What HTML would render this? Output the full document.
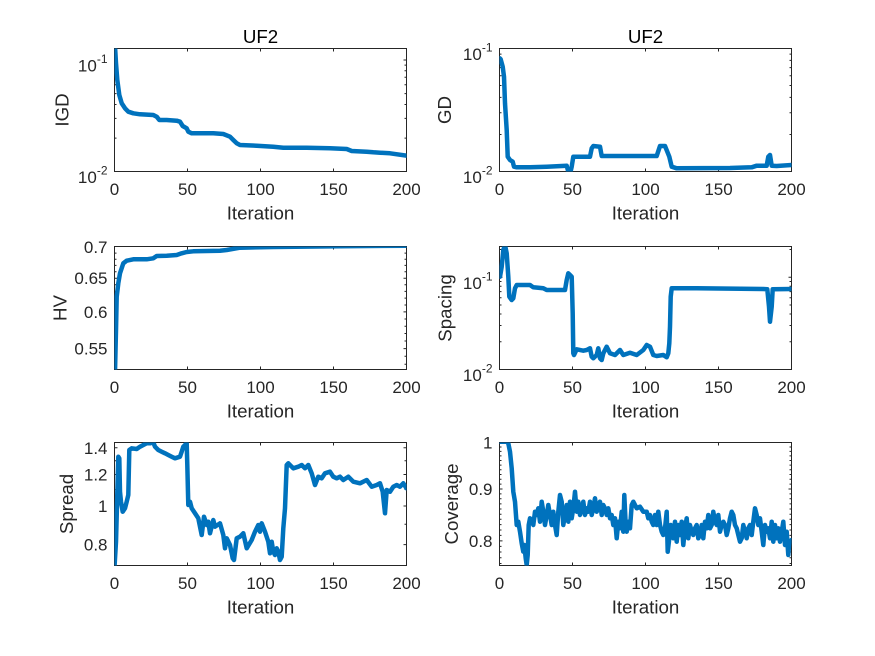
<!DOCTYPE html>
<html>
<head>
<meta charset="utf-8">
<style>
  html, body { margin:0; padding:0; background:#ffffff; }
  svg { display:block; }
  .tk { font-family:"Liberation Sans", Arial, sans-serif; font-size:17px; fill:#262626; }
  .lb { font-family:"Liberation Sans", Arial, sans-serif; font-size:18.7px; fill:#262626; }
  .tt { font-family:"Liberation Sans", Arial, sans-serif; font-size:18.7px; fill:#000000; }
  .ax { fill:none; stroke:#262626; stroke-width:1; }
  .tick { fill:none; stroke:#262626; stroke-width:1; }
  .ser { fill:none; stroke:#0072BD; stroke-width:4.5; stroke-linejoin:round; stroke-linecap:round; }
</style>
</head>
<body>
<svg width="875" height="656" viewBox="0 0 875 656" xmlns="http://www.w3.org/2000/svg">
  <rect x="0" y="0" width="875" height="656" fill="#ffffff"/>
  <defs>
    <clipPath id="c1"><rect x="114.5" y="48.5" width="292" height="123"/></clipPath>
    <clipPath id="c2"><rect x="499.5" y="48.5" width="292" height="123"/></clipPath>
    <clipPath id="c3"><rect x="114.5" y="246.5" width="292" height="123"/></clipPath>
    <clipPath id="c4"><rect x="499.5" y="246.5" width="292" height="123"/></clipPath>
    <clipPath id="c5"><rect x="114.5" y="442.5" width="292" height="123"/></clipPath>
    <clipPath id="c6"><rect x="499.5" y="442.5" width="292" height="123"/></clipPath>
  </defs>

  <!-- ============ AXES BOXES ============ -->
  <rect class="ax" x="114.5" y="48.5" width="292" height="123"/>
  <rect class="ax" x="499.5" y="48.5" width="292" height="123"/>
  <rect class="ax" x="114.5" y="246.5" width="292" height="123"/>
  <rect class="ax" x="499.5" y="246.5" width="292" height="123"/>
  <rect class="ax" x="114.5" y="442.5" width="292" height="123"/>
  <rect class="ax" x="499.5" y="442.5" width="292" height="123"/>

  <!-- ============ X TICKS ============ -->
  <path class="tick" d="
    M187.5,171.5v-3 M260.5,171.5v-3 M333.5,171.5v-3
    M187.5,48.5v3 M260.5,48.5v3 M333.5,48.5v3
    M572.5,171.5v-3 M645.5,171.5v-3 M718.5,171.5v-3
    M572.5,48.5v3 M645.5,48.5v3 M718.5,48.5v3
    M187.5,369.5v-3 M260.5,369.5v-3 M333.5,369.5v-3
    M187.5,246.5v3 M260.5,246.5v3 M333.5,246.5v3
    M572.5,369.5v-3 M645.5,369.5v-3 M718.5,369.5v-3
    M572.5,246.5v3 M645.5,246.5v3 M718.5,246.5v3
    M187.5,565.5v-3 M260.5,565.5v-3 M333.5,565.5v-3
    M187.5,442.5v3 M260.5,442.5v3 M333.5,442.5v3
    M572.5,565.5v-3 M645.5,565.5v-3 M718.5,565.5v-3
    M572.5,442.5v3 M645.5,442.5v3 M718.5,442.5v3"/>

  <!-- ============ Y TICKS ============ -->
  <!-- IGD -->
  <path class="tick" d="M114.5,60h3 M406.5,60h-3
    M114.5,138.1h2 M114.5,118.4h2 M114.5,104.5h2 M114.5,93.6h2 M114.5,84.8h2 M114.5,77.3h2 M114.5,70.8h2 M114.5,65.1h2
    M406.5,138.1h-2 M406.5,118.4h-2 M406.5,104.5h-2 M406.5,93.6h-2 M406.5,84.8h-2 M406.5,77.3h-2 M406.5,70.8h-2 M406.5,65.1h-2"/>
  <!-- GD -->
  <path class="tick" d="
    M499.5,134.5h2 M499.5,112.8h2 M499.5,97.4h2 M499.5,85.5h2 M499.5,75.8h2 M499.5,67.6h2 M499.5,60.4h2 M499.5,54.1h2
    M791.5,134.5h-2 M791.5,112.8h-2 M791.5,97.4h-2 M791.5,85.5h-2 M791.5,75.8h-2 M791.5,67.6h-2 M791.5,60.4h-2 M791.5,54.1h-2"/>
  <!-- HV -->
  <path class="tick" d="M114.5,278.2h3 M114.5,311.9h3 M114.5,348.6h3
    M406.5,278.2h-3 M406.5,311.9h-3 M406.5,348.6h-3
    M114.5,364.2h2 M114.5,356.3h2 M114.5,341h2 M114.5,333.5h2 M114.5,326.2h2 M114.5,319h2 M114.5,305h2 M114.5,298.1h2 M114.5,291.4h2 M114.5,284.7h2 M114.5,271.8h2 M114.5,265.4h2 M114.5,259.2h2 M114.5,253.1h2
    M406.5,364.2h-2 M406.5,356.3h-2 M406.5,341h-2 M406.5,333.5h-2 M406.5,326.2h-2 M406.5,319h-2 M406.5,305h-2 M406.5,298.1h-2 M406.5,291.4h-2 M406.5,284.7h-2 M406.5,271.8h-2 M406.5,265.4h-2 M406.5,259.2h-2 M406.5,253.1h-2"/>
  <!-- Spacing -->
  <path class="tick" d="M499.5,277.3h3 M791.5,277.3h-3
    M499.5,341.7h2 M499.5,325.5h2 M499.5,314h2 M499.5,305h2 M499.5,297.8h2 M499.5,291.6h2 M499.5,286.2h2 M499.5,281.5h2 M499.5,249.5h2
    M791.5,341.7h-2 M791.5,325.5h-2 M791.5,314h-2 M791.5,305h-2 M791.5,297.8h-2 M791.5,291.6h-2 M791.5,286.2h-2 M791.5,281.5h-2 M791.5,249.5h-2"/>
  <!-- Spread -->
  <path class="tick" d="M114.5,447.8h3 M114.5,474.5h3 M114.5,506h3 M114.5,544.6h3
    M406.5,447.8h-3 M406.5,474.5h-3 M406.5,506h-3 M406.5,544.6h-3
    M114.5,524.2h2 M114.5,489.5h2 M114.5,460.7h2
    M406.5,524.2h-2 M406.5,489.5h-2 M406.5,460.7h-2"/>
  <!-- Coverage -->
  <path class="tick" d="M499.5,489h3 M499.5,540.9h3 M791.5,489h-3 M791.5,540.9h-3
    M499.5,563.5h2 M499.5,557.7h2 M499.5,552h2 M499.5,546.4h2 M499.5,535.4h2 M499.5,530h2 M499.5,524.6h2 M499.5,519.3h2 M499.5,514.2h2 M499.5,509h2 M499.5,503.9h2 M499.5,498.8h2 M499.5,493.9h2 M499.5,484.1h2 M499.5,479.2h2 M499.5,474.5h2 M499.5,469.8h2 M499.5,465.1h2 M499.5,460.5h2 M499.5,455.9h2 M499.5,451.4h2 M499.5,447h2
    M791.5,563.5h-2 M791.5,557.7h-2 M791.5,552h-2 M791.5,546.4h-2 M791.5,535.4h-2 M791.5,530h-2 M791.5,524.6h-2 M791.5,519.3h-2 M791.5,514.2h-2 M791.5,509h-2 M791.5,503.9h-2 M791.5,498.8h-2 M791.5,493.9h-2 M791.5,484.1h-2 M791.5,479.2h-2 M791.5,474.5h-2 M791.5,469.8h-2 M791.5,465.1h-2 M791.5,460.5h-2 M791.5,455.9h-2 M791.5,451.4h-2 M791.5,447h-2"/>

  <!-- ============ SERIES ============ -->
  <!-- IGD -->
  <polyline class="ser" clip-path="url(#c1)" points="
    115,46 116,63.3 117.3,80 119.3,95 121.7,103.3 125,108.3 128.3,111.7 133.3,113.3 140,114.3
    153.3,115 156.7,116.7 159.3,120 166.7,120 176.7,120.7 180,121.7 182.7,126 186.7,128.3 188.3,131.7
    191.7,133.3 213.3,133.3 223.3,134 230,136.7 233.3,140 236.7,143.3 240,145 256.7,145.7 273.3,146.7
    283.3,147.7 306.7,147.7 330,148.3 346.7,149 351.7,151 366.7,151.7 373.3,152.3 390,153.3 406.5,155.7"/>
  <!-- GD -->
  <polyline class="ser" clip-path="url(#c2)" points="
    499.8,58.3 500.7,59.3 502.7,66.7 504,76.7 505,103.3 506.7,130 507.7,156.7 510,160 512.7,161.7
    514,166.7 516.7,167.3 530,167.3 546.7,166.7 566.7,165.7 568.3,171.7 570,174 571.7,166.7 573.3,156.7
    590,156.7 591.7,148.3 593.3,146 600,146.7 601.7,156 606.7,156 656.7,156 660,146 665,146 667.3,151.7
    669.3,156.7 671.7,166.7 676.7,168.3 730,168 751.7,167.3 756.7,165.7 766.7,165.7 768.3,156.7 770,155
    771.7,165.7 776.7,166 791.5,165"/>
  <!-- HV -->
  <polyline class="ser" clip-path="url(#c3)" points="
    115,372 116,330 116.7,296.7 118.3,283.3 120,273.3 123.3,263.3 126.7,260.7 133.3,259.3 146.7,259.3
    153.3,258.3 156.7,256 166.7,255.7 176.7,255 181.7,253.3 186.7,252 193.3,251.3 220,250.7 226.7,250
    240,247.7 273.3,247 340,246.3 406.5,245.7"/>
  <!-- Spacing -->
  <polyline class="ser" clip-path="url(#c4)" points="
    500,276.7 501.7,266.7 503.3,250 505,245 506.7,253.3 508.3,276.7 509.3,296.7 511.7,300 513.3,298.3
    515,288.3 516.7,285 530,285 533.3,287.3 543.3,288.3 546.7,290 565,290 566.7,280 568.3,273.3 570,275
    571.7,276.7 572.7,313.3 573.3,353.3 574,355 576.7,349.3 583.3,350.7 586.7,350 590,348.3 591.7,356.7
    593.3,358.3 596.7,355 598.3,348.3 600,358.3 601.7,360 603.3,353.3 606.7,346.7 610,353.3 615,355
    620,350 623.3,355 630,352.7 636.7,355 643.3,350 646.7,345 650,346.7 653.3,355 656.7,356 663.3,355
    666.7,357.3 668.3,353.3 669.3,343.3 670,326.7 670.7,296.7 671.7,288.3 696.7,288.3 763.3,289
    767.3,289.3 769,306.7 770,321.7 771.7,306.7 772.7,289.3 791.5,289"/>
  <!-- Spread -->
  <polyline class="ser" clip-path="url(#c5)" points="
    114.5,567 116,541.7 118.3,456.7 119.3,458.3 120,491.7 121,501.7 122.7,511.7 125,508.3 126.7,501.7
    128.3,495 129.3,450 131.7,448.3 136.7,449 140,446.7 143.3,445 146.7,443.3 150,443.3 153.3,442.3
    155,446.7 158.3,450 161.7,451.7 165,453.3 168.3,455 171.7,456.7 175,458.3 180,456.7 181.7,451.7
    183.3,446.7 186.7,443.3 187.3,465 188.3,505 190,501.7 191.7,508.3 195,513.3 198.3,518.3 201.7,535
    204,516.7 206.7,525 208.3,521.7 210,533.3 213.3,520 215,526.7 220,523.3 223.3,535 225,548.3
    226.7,538.3 230,545 232.7,558.3 234,560 236.7,538.3 240,536.7 243.3,533.3 246.7,548.3 251.7,540
    255,531.7 258.3,525 260,531.7 261.7,523.3 265,531.7 268.3,541.7 270,553.3 271.7,541.7 273.3,551.7
    275,555 276.7,548.3 278.3,551.7 280,560 281.7,556.7 283.3,528.3 285,508.3 286.7,465 288.3,463.3
    293.3,468.3 298.3,466.7 301.7,465 305,468.3 308.3,465 311.7,473.3 315,485 318.3,476.7 321.7,478.3
    325,473.3 330,471.7 333.3,476.7 336.7,478.3 340,476.7 343.3,480 348.3,476.7 353.3,481.7 360,483.3
    366.7,480 371.7,486.7 376.7,485 380,483.3 382.7,491.7 385,513.3 386.7,490 390,491.7 393.3,486.7
    396.7,485 400,486.7 403.3,483.3 406.5,488.3"/>
  <!-- Coverage -->
  <polyline class="ser" clip-path="url(#c6)" points="
    500,441.7 506.7,441.7 508.3,443.3 510,451.7 511.7,468.3 513.3,491.7 515,501.7 516.7,525 518.3,521.7
    520,531.7 521.7,543.3 523.3,551.7 524.3,545 525.7,558.3 526.7,565 527.7,555 528.7,525 530,518.3
    531.7,520 533.3,525 535,511.7 536.7,515 538.3,508.3 540,521.7 541.7,501.7 543.3,511.7 545,525
    546.7,515 548.3,505 550,515 551.7,525 553.3,511.7 555,525 556.7,535 558.3,511.7 560,495 561.7,501.7
    563.3,525 565,515 566.7,505 568.3,521.7 570,501.7 571.7,518.3 573.3,508.3 575,491.7 576.7,511.7
    578.3,501.7 580,515 581.7,508.3 583.3,501.7 585,515 586.7,508.3 588.3,511.7 590,501.7 591.7,515
    593.3,508.3 595,498.3 596.7,511.7 598.3,505 600,501.7 601.7,515 603.3,505 605,508.3 606.7,515
    608.3,508.3 610,518.3 611.7,515 613.3,525 615,518.3 616.7,538.3 618.3,521.7 620,528.3 621.7,511.7
    623.3,531.7 624.3,495 625.7,525 626.7,531.7 628.3,521.7 630,528.3 631.7,505 633.3,501.7 636.7,508.3
    640,506.7 643.3,511.7 646.7,511.7 648.3,518.3 650,515 651.7,521.7 653.3,525 655,515 656.7,525
    658.3,511.7 660,525 661.7,531.7 663.3,535 665,528.3 666.7,511.7 667.7,551.7 669.3,538.3 670.7,525
    672.3,531.7 673.3,538.3 675,521.7 676.7,541.7 678.3,525 680,535 681.7,521.7 683.3,545 685,528.3
    686.7,518.3 688.3,538.3 690,525 691.7,531.7 693.3,535 695,528.3 696.7,525 698.3,538.3 700,535
    701.7,525 703.3,538.3 705,521.7 706.7,528.3 708.3,515 710,528.3 711.7,525 713.3,511.7 715,521.7
    716.7,525 718.3,515 720,531.7 721.7,525 723.3,521.7 725,525 726.7,535 728.3,528.3 730,518.3
    731.7,511.7 733.3,515 735,525 736.7,528.3 738.3,535 740,541.7 741.7,538.3 743.3,525 745,531.7
    746.7,538.3 748.3,528.3 750,525 751.7,535 753.3,521.7 755,508.3 756.7,515 758.3,525 760,518.3
    761.7,531.7 763.3,545 765,525 766.7,531.7 768.3,528.3 770,538.3 771.7,521.7 773.3,541.7 775,525
    776.7,538.3 778.3,528.3 780,541.7 781.7,531.7 783.3,521.7 785,545 786.7,531.7 788.3,555 789.3,541.7
    791.5,540"/>

  <!-- ============ TITLES ============ -->
  <text class="tt" x="260.5" y="43" text-anchor="middle">UF2</text>
  <text class="tt" x="645.5" y="43" text-anchor="middle">UF2</text>

  <!-- ============ X TICK LABELS ============ -->
  <g class="tk" text-anchor="middle">
    <text x="114.5" y="195">0</text><text x="187.5" y="195">50</text><text x="260.5" y="195">100</text><text x="333.5" y="195">150</text><text x="406.5" y="195">200</text>
    <text x="499.5" y="195">0</text><text x="572.5" y="195">50</text><text x="645.5" y="195">100</text><text x="718.5" y="195">150</text><text x="791.5" y="195">200</text>
    <text x="114.5" y="393">0</text><text x="187.5" y="393">50</text><text x="260.5" y="393">100</text><text x="333.5" y="393">150</text><text x="406.5" y="393">200</text>
    <text x="499.5" y="393">0</text><text x="572.5" y="393">50</text><text x="645.5" y="393">100</text><text x="718.5" y="393">150</text><text x="791.5" y="393">200</text>
    <text x="114.5" y="589">0</text><text x="187.5" y="589">50</text><text x="260.5" y="589">100</text><text x="333.5" y="589">150</text><text x="406.5" y="589">200</text>
    <text x="499.5" y="589">0</text><text x="572.5" y="589">50</text><text x="645.5" y="589">100</text><text x="718.5" y="589">150</text><text x="791.5" y="589">200</text>
  </g>

  <!-- ============ X LABELS ============ -->
  <g class="lb" text-anchor="middle">
    <text x="260.5" y="219.5">Iteration</text>
    <text x="645.5" y="219.5">Iteration</text>
    <text x="260.5" y="417.5">Iteration</text>
    <text x="645.5" y="417.5">Iteration</text>
    <text x="260.5" y="613.5">Iteration</text>
    <text x="645.5" y="613.5">Iteration</text>
  </g>

  <!-- ============ Y TICK LABELS ============ -->
  <g class="tk" text-anchor="end">
    <!-- IGD -->
    <text x="107.5" y="71.5">10<tspan font-size="12" dy="-8.5">-1</tspan></text>
    <text x="107.5" y="183">10<tspan font-size="12" dy="-8.5">-2</tspan></text>
    <!-- GD -->
    <text x="492.5" y="60">10<tspan font-size="12" dy="-8.5">-1</tspan></text>
    <text x="492.5" y="183">10<tspan font-size="12" dy="-8.5">-2</tspan></text>
    <!-- HV -->
    <text x="107.5" y="253">0.7</text>
    <text x="107.5" y="284.2">0.65</text>
    <text x="107.5" y="317.9">0.6</text>
    <text x="107.5" y="354.6">0.55</text>
    <!-- Spacing -->
    <text x="492.5" y="288.8">10<tspan font-size="12" dy="-8.5">-1</tspan></text>
    <text x="492.5" y="381">10<tspan font-size="12" dy="-8.5">-2</tspan></text>
    <!-- Spread -->
    <text x="107.5" y="453.8">1.4</text>
    <text x="107.5" y="480.5">1.2</text>
    <text x="107.5" y="512">1</text>
    <text x="107.5" y="550.6">0.8</text>
    <!-- Coverage -->
    <text x="492.5" y="448.5">1</text>
    <text x="492.5" y="495">0.9</text>
    <text x="492.5" y="546.9">0.8</text>
  </g>

  <!-- ============ Y LABELS ============ -->
  <g class="lb" text-anchor="middle">
    <text transform="translate(68.5,110) rotate(-90)">IGD</text>
    <text transform="translate(451,110) rotate(-90)">GD</text>
    <text transform="translate(66.5,308) rotate(-90)">HV</text>
    <text transform="translate(451.5,308) rotate(-90)">Spacing</text>
    <text transform="translate(73,504) rotate(-90)">Spread</text>
    <text transform="translate(458,504) rotate(-90)">Coverage</text>
  </g>
</svg>
</body>
</html>
